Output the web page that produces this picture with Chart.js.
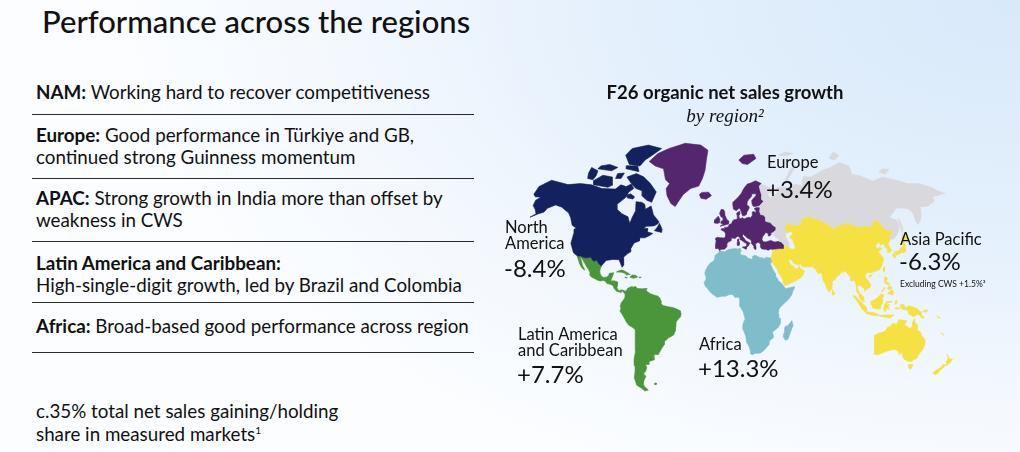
<!DOCTYPE html>
<html>
<head>
<meta charset="utf-8">
<script src="https://cdn.jsdelivr.net/npm/chart.js@4/dist/chart.umd.min.js"></script>
<style>
  html, body { margin: 0; padding: 0; }
  body {
    width: 1020px; height: 452px; overflow: hidden; position: relative;
    font-family: Lato, 'Open Sans', sans-serif; color: #111;
    background: radial-gradient(ellipse 900px 520px at 100% 0%, #d8e9fa 0%, #e4f0fc 45%, #f3f8fe 75%, #fbfdff 100%);
  }
  .t { position: absolute; left: 36px; white-space: nowrap; font-size: 18.8px; line-height: 22px; }
  .t b { font-weight: 700; }
  .rule { position: absolute; left: 32px; width: 442px; height: 0; border-top: 1.5px solid #2a2a2a; }
  #title { position: absolute; left: 42px; top: 4px; font-size: 31px; line-height: 34px; font-weight: 500; white-space: nowrap; }
  #mapbox { position: absolute; left: 430px; top: 0; width: 590px; height: 452px; }
  sup { font-size: 0.55em; vertical-align: 0.7em; line-height: 0; }
</style>
</head>
<body>
<div id="title">Performance across the regions</div>

<div class="t" style="top:81px"><b>NAM:</b> Working hard to recover competitiveness</div>
<div class="rule" style="top:114px"></div>
<div class="t" style="top:124px"><b>Europe:</b> Good performance in Türkiye and GB,<br>continued strong Guinness momentum</div>
<div class="rule" style="top:178px"></div>
<div class="t" style="top:187px"><b>APAC:</b> Strong growth in India more than offset by<br>weakness in CWS</div>
<div class="rule" style="top:241px"></div>
<div class="t" style="top:252px"><b>Latin America and Caribbean:</b><br>High-single-digit growth, led by Brazil and Colombia</div>
<div class="rule" style="top:302px"></div>
<div class="t" style="top:315px"><b>Africa:</b> Broad-based good performance across region</div>
<div class="rule" style="top:352px"></div>
<div class="t" style="top:399px; line-height:23px">c.35% total net sales gaining/holding<br>share in measured markets<sup>1</sup></div>

<div id="mapbox"><canvas id="mapChart"></canvas></div>

<script>
// F26 organic net sales growth by region (%)
const regions = ['North America', 'Europe', 'Asia Pacific', 'Latin America and Caribbean', 'Africa'];
const growth = [-8.4, 3.4, -6.3, 7.7, 13.3];
const apacExCws = 1.5;

// region outlines, [lon, lat]
const namShapes = [
  [[-168,65.6],[-166,68.8],[-156.8,71.3],[-141,69.6],[-130,70],[-120,69.5],[-110,68],[-98,67.8],[-94,69.5],[-89,68.8],[-85,69.8],[-82,68],[-86,66.5],[-87,64.5],[-91,62.5],[-94,61],[-93,58.8],[-88,56.5],[-82.5,55],[-80,51.5],[-79,54.5],[-77,58],[-78,62.3],[-73,62],[-70,61],[-69,58.8],[-64.5,60.3],[-61.5,56],[-56,52.3],[-57,51.2],[-60,50.2],[-66,50],[-68,49],[-64.5,48.8],[-64.8,47],[-60,46],[-63,44.6],[-66,43.5],[-70,43.5],[-70,41.7],[-74,40.5],[-76,37],[-75.5,35.2],[-78,33.8],[-81,31.5],[-80,26.5],[-81,25.1],[-82.8,28],[-84,30],[-89,30.2],[-94,29.6],[-97.2,25.9],[-99.5,27.5],[-101.4,29.8],[-103,29],[-104.5,29.6],[-106.5,31.8],[-108.2,31.3],[-111,31.3],[-114.8,32.5],[-117.1,32.5],[-120.6,34.5],[-122.5,37.5],[-124.3,40.3],[-124,46],[-124.7,48.4],[-123,49],[-127,50.5],[-130,54.5],[-133,57],[-137,58.5],[-140,59.7],[-146,60.8],[-152,59.2],[-154,57.3],[-158,56.5],[-164,54.8],[-160,56.5],[-162,58.6],[-165,60.5],[-164.5,63],[-161,64.3],[-166,64.5],[-168,65.6]],
  [[-64.5,62],[-61.8,66.6],[-68,70],[-75,72.6],[-82,73.8],[-90,72.5],[-84,69.5],[-80,68],[-74,67],[-73.5,64.8],[-69,63]],
  [[-90,77],[-80,76.5],[-76,78.5],[-70,80],[-62,82],[-75,83],[-90,82],[-95,80]],
  [[-92,75.5],[-80,74.5],[-82,76.5],[-92,76.6]],
  [[-118,69.5],[-105,68.5],[-101,69.5],[-103,72.5],[-112,73.2],[-119,71.2]],
  [[-125,72],[-120,71.5],[-118,73],[-117.5,74.8],[-124,76],[-125.5,74]],
  [[-118,75.5],[-105,74.8],[-100,76],[-108,77],[-116,76.5]],
  [[-100,72],[-95,72],[-93,74],[-99,73.8]],
  [[-86,64],[-81,63.5],[-80,64.5],[-84,65.8],[-87,65.2]],
  [[-59,47.6],[-53,46.6],[-52.8,48.2],[-55.5,51.6],[-57,49.5]]
];
const europeShapes = [
  [[-44,60],[-48,61.5],[-52,65],[-53.5,68],[-51,70],[-55,71.5],[-58,75.5],[-66,76.5],[-72,78],[-65,80.5],[-55,82],[-40,83.5],[-25,83],[-18,81.5],[-19,79],[-20,75],[-22,72],[-25,69],[-32,68],[-38,65.5],[-42,62]],
  [[-24,65.5],[-22,66.4],[-16,66.5],[-13.5,65],[-18,63.4],[-22.5,63.8]],
  [[11,78.5],[16,80],[25,80.3],[27,79],[19,77],[14,77.3]],
  [[-5.7,50],[1.3,51.2],[1.7,52.7],[0,53.5],[-1.6,55.6],[-2,57.7],[-3,58.6],[-5,58.6],[-6.2,56.7],[-5,55],[-3.2,54.5],[-3,53.4],[-4.6,52.8],[-5.2,51.7],[-3,51.3]],
  [[-6,52],[-6,54],[-7.3,55.3],[-8.5,54.5],[-10,53.5],[-10.3,51.8],[-8,51.5]],
  [[30.5,70],[28.5,69],[29,67.5],[30,65.5],[29.5,63.5],[31.5,62.5],[28,60.5],[25,60.2],[22.5,60],[21.5,61],[21.2,62.8],[25,65],[25.5,65.8],[22,65.8],[21,64.5],[19,63.5],[17.5,62.4],[17,61],[18.7,60],[18.9,59.4],[16.5,57],[16.2,56.2],[14.3,55.4],[12.9,55.6],[11.9,57.6],[11,59],[10.5,59.5],[8,58],[5.5,58.8],[5,60.5],[5,62],[7.5,63.2],[10,64.5],[12.5,66],[14.5,67.8],[16,68.7],[18,69.8],[21,70.2],[25.5,71.1]],
  [[28,59.4],[27.5,57.6],[28.2,56.1],[31,55.8],[32,54.5],[31.5,53],[33.5,52.3],[35.5,52.2],[38,50.3],[40,49.6],[39.7,47.8],[38.2,47.1],[35,46.2],[35.5,45.3],[34,44.4],[33,45],[33.5,46],[31.5,46.6],[30,45.3],[28.6,44],[28,42.5],[29,41.2],[31,41.1],[35,42],[38,41],[41.5,41.5],[43.5,41.1],[44.8,39.7],[44.4,37.1],[42.3,37.1],[38,36.8],[36.6,36.8],[36.2,36.5],[34.5,36.8],[32.5,36.1],[30.6,36.6],[29,36.7],[27.3,37],[26.3,38.3],[26.7,39.4],[26.2,40.1],[26,40.8],[24,40.8],[23.6,40.2],[22.6,40.3],[23,38.2],[22.9,36.5],[21.7,36.8],[21.1,37.9],[21.5,38.4],[20.1,39.5],[19.4,40.3],[19.5,41.8],[18.5,42.5],[16,43.5],[15,44.5],[13.7,45.1],[13.6,45.6],[12.3,45.4],[12.4,44.2],[13.6,43.5],[14.7,42.1],[16,41.4],[17.9,40.6],[18.5,40.1],[17.2,39.6],[17.1,38.9],[16.1,38],[15.6,38.2],[15.7,40],[14.5,40.6],[13,41.3],[12.2,41.8],[11.1,42.4],[10.5,43],[10.2,43.9],[8.8,44.4],[7.5,43.8],[6.5,43.1],[4.6,43.4],[3.1,43.1],[3.2,41.9],[2.1,41.3],[0.8,41],[0,39.9],[-0.3,39.4],[0.2,38.7],[-0.7,37.6],[-2.1,36.7],[-4.5,36.6],[-5.6,36],[-6.3,36.8],[-7.4,37.2],[-8.9,37],[-8.8,38.3],[-9.4,39.4],[-8.7,41.5],[-8.9,42.5],[-9.3,43.1],[-7.9,43.8],[-5.6,43.6],[-1.8,43.4],[-1.2,44.7],[-1.2,46.2],[-2.5,47.3],[-4.5,47.9],[-4.7,48.6],[-3,48.8],[-1.6,48.6],[-1.9,49.7],[-1.2,49.4],[0.2,49.5],[1.5,50.2],[1.6,50.9],[2.6,51.1],[3.8,51.5],[4.7,52.9],[5.6,53.4],[7,53.6],[8.6,53.9],[8.6,55.4],[8.1,56.5],[8.6,57.1],[10.5,57.7],[10.3,56.6],[10.9,56.3],[9.6,55.2],[10,54.6],[11,54],[13,54.5],[14.2,53.9],[16.5,54.5],[18.5,54.8],[19.5,54.4],[21.1,55.6],[21.1,56.1],[21,56.8],[21.6,57.4],[22.6,57.7],[24.1,57],[24.4,58.3],[23.5,58.6],[23.4,59.2],[24.5,59.5],[26,59.6]],
  [[12.4,38.1],[15.6,38.3],[15.1,36.7],[12.4,37.7]],
  [[8.2,41],[9.8,41.2],[9.6,39.1],[8.4,39]],
  [[8.6,41.4],[9.5,41.4],[9.5,43],[8.7,42.6]]
];
const russiaShapes = [
  [[30.5,69.8],[33,69.3],[41,67.6],[40,66],[35,66.2],[37,64.2],[40.5,64.6],[44,66.5],[44,68.5],[53.5,68.5],[58,68.9],[60,69.8],[67,69],[66.5,70.5],[69,72.8],[75,72.5],[80,73.5],[87,75],[95,76],[104,77.7],[112,76.5],[113,73.5],[120,73],[130,71],[140,72.5],[150,71.5],[160,70],[170,70],[180,68.5],[185,67],[190,66],[182,65],[178,64.5],[178,62.5],[173,61],[170,60],[164,60],[163,58],[162.5,56],[160,53],[156.7,51],[156,53],[156,57],[153,59],[148,59.3],[143,59.3],[140.5,57.5],[135,54.8],[140.5,53.2],[141.2,52],[140.3,48.5],[138,46],[134,43],[130.5,42.6],[131.2,44.8],[133,45],[135,48.5],[131,47.7],[127.5,49.8],[125.5,53],[120.5,53.3],[119,50],[116.5,49.8],[114,50.2],[108,49.5],[106,50.3],[98,52],[88,49.5],[87,49],[83,51],[77,53.5],[73,54],[69,55.3],[65,54.5],[61,53.9],[61,51],[55,50.6],[50,51.5],[47.5,50.5],[47,49],[48,46.6],[47.5,45.5],[47,45],[47.5,43.5],[48.5,41.8],[49.5,40.3],[48.9,38.4],[46.5,39],[44.8,39.7],[43.5,41.1],[41.5,41.5],[41.7,42.7],[40,43.4],[38,44.5],[37.5,45],[38.2,47.1],[39.7,47.8],[40,49.6],[38,50.3],[35.5,52.2],[33.5,52.3],[31.5,53],[32,54.5],[31,55.8],[28.2,56.1],[27.5,57.6],[28,59.4],[28,60.5],[31.5,62.5],[29.5,63.5],[30,65.5],[29,67.5],[28.5,69]],
  [[52,71.5],[55,73.5],[58,75.5],[68,76.9],[62,75.8],[56,72.5],[53,70.7]],
  [[95,79],[100,81],[105,80],[100,78.5]],
  [[138,74.5],[142,75.5],[148,75.3],[143,73.5]],
  [[142,46],[143.5,49],[143.2,52],[142.5,54.3],[142,51.5],[141.8,48]],
  [[48,80],[55,81],[62,80.5],[56,79.8]]
];
const apacShapes = [
  [[35.9,35.9],[36.6,36.8],[38,36.8],[42.3,37.1],[44.4,37.1],[44.8,39.7],[46.5,39],[48.9,38.4],[49.2,37.6],[51,36.7],[54,36.9],[53.9,38.9],[53,40.8],[52.8,42],[51.3,43.3],[50.8,44.5],[53,45.3],[53.2,46.8],[51,47],[49,46.5],[48,46.6],[47,49],[47.5,50.5],[50,51.5],[55,50.6],[61,51],[61,53.9],[65,54.5],[69,55.3],[73,54],[77,53.5],[83,51],[87,49],[88,49.5],[98,52],[106,50.3],[108,49.5],[114,50.2],[116.5,49.8],[119,50],[120.5,53.3],[125.5,53],[127.5,49.8],[131,47.7],[135,48.5],[133,45],[131.2,44.8],[130.5,42.6],[129.5,41.5],[128,39.5],[129.4,37],[129.4,35.5],[127,34.6],[126.3,34.8],[126.8,37.6],[125.3,37.7],[125,39.6],[124.3,39.9],[121.5,39.1],[122,40.6],[121,40.9],[119.5,39.9],[118,39.1],[117.7,38.3],[119,37.2],[120.8,37.8],[122.5,37],[120.5,36],[119.2,35],[120.5,33],[121.8,31.8],[121.9,30.8],[121.5,29.5],[120,26.5],[118.5,24.5],[116.5,23],[113.5,22.2],[111,21.5],[108,21.6],[106.7,20.5],[105.8,19],[106.5,17.5],[108,16],[109.3,13.5],[109.2,11.7],[108,10.8],[106.7,10.4],[104.8,8.6],[104.6,10.2],[103,11.3],[102.3,12.2],[100.9,12.7],[100,13.4],[99.2,10.5],[99.9,9.2],[100.5,7.3],[101.5,6.8],[102.2,6.2],[103.4,4.6],[103.6,2.6],[104.2,1.4],[103.4,1.3],[101.3,2.8],[100.3,4.5],[100.2,6.4],[98.5,8],[98.3,9.5],[98.7,11.6],[98,14],[97.5,16.5],[95.5,15.8],[94.3,16.2],[94.5,18.5],[93,20],[92.3,21],[91.8,22.3],[90.5,22.5],[89,21.7],[87,21.5],[86.5,20],[84.8,19.3],[82.3,16.6],[80.3,15.5],[80.1,13.3],[79.8,10.3],[78.2,8.9],[77.5,8.1],[76.5,9.5],[75.5,11.8],[74.7,14],[73.5,16],[72.8,19],[72.6,21.5],[70.5,20.8],[69,22.3],[68.5,23.5],[67.3,24.5],[66.5,25.4],[61.6,25.2],[58,25.6],[57.3,27.2],[56.3,27.1],[54.5,26.6],[51.5,27.9],[50.2,30.1],[48.8,30.2],[48,29.3],[48.5,28],[49.5,26.8],[50.2,25.7],[51.6,26.1],[51.4,24.5],[54.5,24.2],[56,26.2],[56.4,24.9],[57.5,23.8],[59.8,22.5],[58.5,20.5],[57.7,19],[55.5,17.5],[52.2,15.7],[49.5,14.7],[45.5,13],[43.5,12.7],[42.8,14.8],[42.7,16.5],[41.2,19],[39.5,21.5],[38.5,24],[37.2,25.8],[35.2,28],[34.9,29.5],[34.3,31.3],[34.9,32.5],[35.5,33.9],[35.9,34.7]],
  [[79.8,8],[80.1,9.8],[81.8,7.5],[81.2,6.2],[80.2,6]],
  [[120.1,23],[121,25.2],[122,25],[121,22]],
  [[108.6,19.2],[110.5,20.1],[111,19.6],[109.5,18.2]],
  [[130.9,33.9],[132.6,35.5],[135.5,35.6],[136.8,37.3],[139,38],[140,40.5],[140.8,41.5],[141.5,40.5],[142,39],[141,38.3],[140.9,36.9],[140.5,35.2],[139.8,35],[138.8,34.6],[137,34.6],[135.3,33.7],[135,34.6],[133.5,34.4],[131.2,33.9]],
  [[129.7,33.2],[130.5,31.2],[131.4,31.4],[132,33],[131,34]],
  [[132.5,33],[133,34.2],[134.6,34.2],[134.3,33.3]],
  [[140,41.5],[140.4,43.3],[141.6,45.4],[145,43.7],[145.5,43.3],[143.3,42],[141,42.3]],
  [[120.6,18.5],[122.2,18.5],[122.5,17],[121.5,15.5],[124,13.8],[123.3,13],[120.8,13.9],[120,15.5]],
  [[122,7],[123.5,8.6],[125.4,9.8],[126.5,7.2],[125.5,5.6],[124,6.5]],
  [[122,11],[124,12.5],[125.8,11],[124.2,10],[122.5,9.8]],
  [[117.2,8.4],[119.5,11.2],[119.8,10.5],[118,8.3]],
  [[109,1.5],[110,1.8],[111.5,2.5],[113,3.2],[114.8,4.8],[116.1,6],[117.5,6.8],[119.3,5.4],[118,4.4],[117.8,1.2],[117.5,0],[116.5,-1.5],[116.2,-3.8],[114.5,-4],[111.5,-3.5],[110.2,-2.9],[110,-1.5],[109,-0.5]],
  [[95.3,5.6],[97.5,5.2],[100.3,2.4],[103.8,-1],[106,-3],[105.8,-5.8],[104.5,-5.9],[102.3,-4],[100.5,-1.2],[98.6,1.7]],
  [[105.2,-6.8],[106,-5.9],[108.3,-6.3],[111,-6.4],[112.6,-6.9],[114.6,-7.7],[114.4,-8.7],[111,-8.3],[108,-7.8],[106.4,-7.4]],
  [[119.4,-5.6],[120.4,-5.5],[121,-2.8],[123.3,-4.6],[121.9,-1.6],[123.3,-0.9],[121.5,-0.9],[120.8,1.3],[124.8,1.5],[125,1],[120.5,0.4],[119.6,-0.3],[118.8,-2.8]],
  [[115.2,-8.2],[119,-8.2],[123,-8.1],[127,-8.3],[125.5,-9.3],[124,-10.2],[120,-9.5],[116,-9]],
  [[127.5,-3.2],[130.5,-3],[130.8,-3.8],[128,-3.9]],
  [[127.5,1.5],[128.5,2.2],[128.8,0.5],[127.8,-0.6]],
  [[131,-1],[134,-0.8],[135.5,-3.3],[138,-1.6],[141,-2.6],[144.5,-3.8],[146,-5.5],[147.8,-6.2],[147.3,-7.8],[150,-10.3],[148,-10.1],[146,-8.2],[144,-7.6],[143,-9.1],[141,-9.1],[139,-8.1],[138,-7.5],[137.5,-5.2],[135,-4.3],[132.5,-4],[131.5,-2.7],[132,-2.1],[131,-1.4]],
  [[148.5,-5.5],[151.5,-4.2],[152.2,-5.5],[150.5,-6.3]],
  [[113.6,-22],[114.2,-26],[115.1,-30.5],[115.7,-33.3],[115,-34.3],[118,-35],[121.9,-33.8],[124,-33],[126.2,-32.3],[129,-31.6],[131.2,-31.5],[134.2,-32.8],[135.6,-34.9],[137.6,-33],[137.9,-35.7],[138.5,-35.6],[140,-37.5],[143.5,-38.8],[146.3,-39.1],[148,-37.8],[150,-37.3],[150.8,-34.5],[152.9,-31.5],[153.6,-28.5],[153.1,-25.2],[151,-23.5],[149.5,-22.3],[148.8,-20.4],[146.3,-19],[145.4,-16],[145.3,-14.9],[143.6,-14],[142.5,-10.7],[141.6,-12.9],[141.6,-15.5],[140.8,-17.4],[139.3,-17.3],[137,-15.9],[135.5,-14.8],[136.9,-12.3],[134,-11.9],[131.2,-11.3],[130,-12.9],[129.4,-14.9],[127.5,-14],[125.8,-14.5],[124.4,-16.5],[123,-16.4],[121.7,-18.7],[119.7,-20],[116.7,-20.6],[114.6,-21.8]],
  [[144.6,-40.7],[148.3,-40.9],[148,-43.2],[146.8,-43.6],[145.2,-42.2]],
  [[172.7,-34.4],[174.6,-36.3],[175.9,-37.3],[178.5,-37.7],[177.9,-39.1],[176.8,-40.2],[175.2,-41.6],[174.6,-41.2],[175.1,-40],[173.8,-39.2],[174.6,-38.1],[174.3,-36.6]],
  [[172.6,-40.5],[174.3,-41.2],[173.2,-43],[171.2,-44.5],[170.6,-45.9],[169,-46.7],[166.5,-46],[166.8,-45.2],[168.3,-44],[170.5,-43],[172,-41.5]],
  [[165,-21],[166.5,-21.5],[167,-22.3],[164.5,-20.5]],
  [[159.5,-9],[161,-9.5],[162,-10.5],[160,-9.8]]
];
const latamShapes = [
  [[-117.1,32.5],[-114.8,32.5],[-111,31.3],[-108.2,31.3],[-106.5,31.8],[-104.5,29.6],[-103,29],[-101.4,29.8],[-99.5,27.5],[-97.2,25.9],[-97.7,24],[-97.8,22],[-97.2,20.5],[-96.1,19],[-94.5,18.2],[-92,18.6],[-90.7,19.6],[-90.4,21],[-87,21.5],[-87.5,19.5],[-88.2,17.5],[-88.7,15.8],[-86,15.9],[-83.3,15],[-83.6,12],[-83.7,10.9],[-82,9],[-79.6,9.6],[-77.3,8.7],[-76,9.5],[-75.5,10.7],[-74.2,11.3],[-72.2,12],[-71.5,10.9],[-70,12.2],[-68,10.6],[-64.5,10.3],[-62,10.6],[-60.7,8.5],[-58.5,7],[-55.5,6],[-52.5,5.2],[-51,4],[-50,1.8],[-50,0],[-48.5,-1.5],[-44.5,-2.3],[-41,-2.9],[-38.5,-3.7],[-35.3,-5.2],[-34.8,-7.5],[-35.3,-9.5],[-37,-11],[-38.7,-13],[-39,-16],[-39.8,-19.5],[-41,-22],[-43.1,-23],[-45,-23.8],[-48.5,-26.5],[-48.8,-28.5],[-51,-31],[-53,-33.5],[-54,-34.8],[-56.8,-34.5],[-57.5,-35.7],[-57.4,-38],[-62,-39],[-62.3,-40.8],[-65,-41],[-64.2,-42.5],[-65.5,-44.8],[-67.5,-46],[-66,-47.8],[-68,-50],[-69,-51.5],[-68.4,-53],[-65.5,-55],[-68.5,-55.5],[-71,-54],[-74.5,-52.5],[-75.5,-48.5],[-74,-44.5],[-73.5,-41.5],[-73.5,-37.5],[-71.5,-32.5],[-71.4,-28.5],[-70.5,-23.5],[-70.3,-18.5],[-71.5,-17.2],[-75,-15.2],[-76.3,-13.5],[-78.5,-9.5],[-80,-7],[-81.2,-5.5],[-80.3,-3.4],[-80.9,-2],[-80.1,0.6],[-79,1.7],[-77.4,4],[-77.3,6.5],[-78.2,7.5],[-79.5,8.9],[-80.5,7.5],[-81.7,8.1],[-83.7,8.5],[-85.8,10.5],[-86.5,12.1],[-87.5,13],[-89.3,13.5],[-91.5,14],[-93,15.7],[-94.8,16.2],[-96.5,15.7],[-98.5,16.2],[-101,17.4],[-103.5,18.3],[-105.5,20],[-105.3,21.6],[-106.4,23.2],[-108,25],[-109.3,26.5],[-111,28.5],[-112.8,30.5],[-114.8,31.8],[-113,29],[-111.5,26],[-109.4,23.2],[-110.3,23.5],[-112.1,24.8],[-114.2,27.3],[-115.7,29.8],[-116.8,31.8]],
  [[-85,21.9],[-82,23.2],[-80,23.1],[-77,21.7],[-74.1,20.2],[-77.3,19.9],[-78,20.9],[-81,21.8]],
  [[-74.4,18.4],[-72.8,19.9],[-70,19.7],[-68.3,18.6],[-71.5,17.6]],
  [[-78.3,18.4],[-76.2,18.2],[-77,17.7]],
  [[-67.2,18.5],[-65.6,18.4],[-66,18],[-67.2,18]],
  [[-61.5,10.7],[-60.9,10.8],[-61,10.1],[-61.9,10.1]],
  [[-59.5,-51.3],[-58,-51.3],[-58.5,-52.2],[-60,-52]]
];
const africaShapes = [
  [[-5.9,35.8],[-2,35.1],[1,36.5],[3,36.8],[6.5,37.1],[8.6,36.9],[10.3,37.3],[11.1,36.9],[10.3,36.2],[11,35.2],[10.2,34.2],[11.3,33.1],[13,32.9],[15.2,32.3],[15.7,31.4],[18.9,30.3],[20,31],[20.1,32.3],[22,32.9],[23.1,32.6],[25,31.7],[29,30.9],[31,31.6],[32.3,31.3],[34.3,31.3],[34.9,29.5],[34.2,27.8],[32.6,29.9],[33.6,27.5],[35,24.5],[35.6,23.1],[37,21.1],[37.2,19],[38.5,17.8],[39.2,15.9],[41.2,14.5],[42.4,13],[43.3,11.9],[44.6,10.4],[47.5,11.1],[51.2,11.8],[51,10.5],[50.3,9.2],[48.9,5.7],[47.8,4.4],[46,2.3],[43.5,0.3],[41.6,-1.7],[40.2,-2.8],[39.2,-4.7],[38.8,-6.5],[39.5,-8],[39.4,-10],[40.5,-10.6],[40.5,-14.5],[39,-17],[36.3,-18.9],[34.8,-20],[35.5,-22],[35.5,-24],[32.9,-26],[32.6,-28.5],[31,-29.9],[28.9,-32.2],[26.4,-33.7],[25,-34],[22.5,-34],[20,-34.8],[18.4,-34.2],[18.3,-32.5],[17.3,-30],[16.5,-28.6],[15.2,-27],[14.5,-23],[13.5,-20.8],[11.8,-17.3],[12,-15.5],[12.6,-13.2],[13.8,-11],[13.2,-9],[12.3,-6.1],[11.1,-3.9],[9.3,-1.5],[9.4,1],[9.8,3.1],[8.9,4.4],[6,4.3],[4.4,6.4],[2,6.3],[-1,5.1],[-3.2,5.1],[-7.6,4.4],[-9.5,5.6],[-11.4,6.9],[-13.3,8.7],[-15,10.8],[-16.7,12.4],[-17.5,14.7],[-16.5,16.3],[-16.1,18.5],[-17.1,21],[-16.3,23.2],[-14.6,26.1],[-13.1,27.7],[-10.2,29.3],[-9.6,30.8],[-9.5,32.6],[-8,33.7],[-6.8,34.1]],
  [[49.3,-12],[50.5,-15.5],[49.6,-17.5],[48.6,-20.5],[47.1,-24.9],[45.1,-25.5],[43.7,-23.6],[43.3,-21.8],[44.3,-19.8],[44,-17.6],[44.4,-16.2],[46.3,-15.6],[47.9,-14]]
];

const regionShapes = [namShapes, europeShapes, apacShapes, latamShapes, africaShapes];
const regionColors = ['#13215e', '#54266e', '#f5e142', '#4b953b', '#80bdcb'];
const otherColor = '#d9d9dd';

// map projection: pseudo-cylindrical, Miller-style latitude
function project(p) {
  const lon = p[0], lat = p[1];
  const r = lat * Math.PI / 180;
  const my = 1.25 * Math.log(Math.tan(Math.PI / 4 + 0.4 * r)) * 180 / Math.PI;
  return { x: lon * (1 - 0.00003 * lat * lat), y: my };
}

function shapeSets(shapes, color) {
  return shapes.map(function(s) {
    return {
      data: s.concat([s[0]]).map(project),
      showLine: true,
      fill: 'shape',
      backgroundColor: color,
      borderColor: color,
      borderWidth: 0.6,
      pointRadius: 0,
      tension: 0
    };
  });
}

let datasets = shapeSets(russiaShapes, otherColor);
regionShapes.forEach(function(shapes, i) {
  datasets = datasets.concat(shapeSets(shapes, regionColors[i]));
});

function fmt(v) {
  return (v > 0 ? '+' : '') + v.toFixed(1) + '%';
}

// region labels, canvas pixel anchors
const labelLayout = [
  { x: 75, lines: ['North', 'America'], y: [233, 249], vy: 277 },
  { x: 337, lines: ['Europe'], y: [168], vy: 198 },
  { x: 470, lines: ['Asia Pacific'], y: [245], vy: 270 },
  { x: 88, lines: ['Latin America', 'and Caribbean'], y: [340, 356], vy: 383 },
  { x: 269, lines: ['Africa'], y: [350], vy: 377 }
];

const labelPlugin = {
  id: 'regionLabels',
  afterDatasetsDraw: function(chart) {
    const ctx = chart.ctx;
    ctx.save();
    ctx.fillStyle = '#111';
    ctx.textAlign = 'center';
    ctx.textBaseline = 'alphabetic';
    ctx.font = '700 18.5px Lato, "Open Sans", sans-serif';
    ctx.fillText('F26 organic net sales growth', 295, 99);
    ctx.font = 'italic 19px "Liberation Serif", "DejaVu Serif", serif';
    ctx.fillText('by region\u00b2', 295, 122);
    ctx.textAlign = 'left';
    regions.forEach(function(name, i) {
      const l = labelLayout[i];
      ctx.font = '400 16.5px Lato, "Open Sans", sans-serif';
      l.lines.forEach(function(t, j) { ctx.fillText(t, l.x, l.y[j]); });
      ctx.font = '400 24px Lato, "Open Sans", sans-serif';
      ctx.fillText(fmt(growth[i]), l.x - 1, l.vy);
    });
    ctx.font = '400 8.5px Lato, "Open Sans", sans-serif';
    ctx.fillText('Excluding CWS ' + fmt(apacExCws) + '\u00b3', 470, 287);
    ctx.restore();
  }
};

new Chart(document.getElementById('mapChart'), {
  type: 'scatter',
  data: { datasets: datasets },
  options: {
    responsive: true,
    maintainAspectRatio: false,
    animation: false,
    layout: { padding: 0 },
    scales: {
      x: { type: 'linear', display: false, min: -225, max: 222 },
      y: { type: 'linear', display: false, min: -105.2, max: 214.9 }
    },
    plugins: {
      legend: { display: false },
      tooltip: { enabled: false }
    }
  },
  plugins: [labelPlugin]
});
</script>
</body>
</html>
